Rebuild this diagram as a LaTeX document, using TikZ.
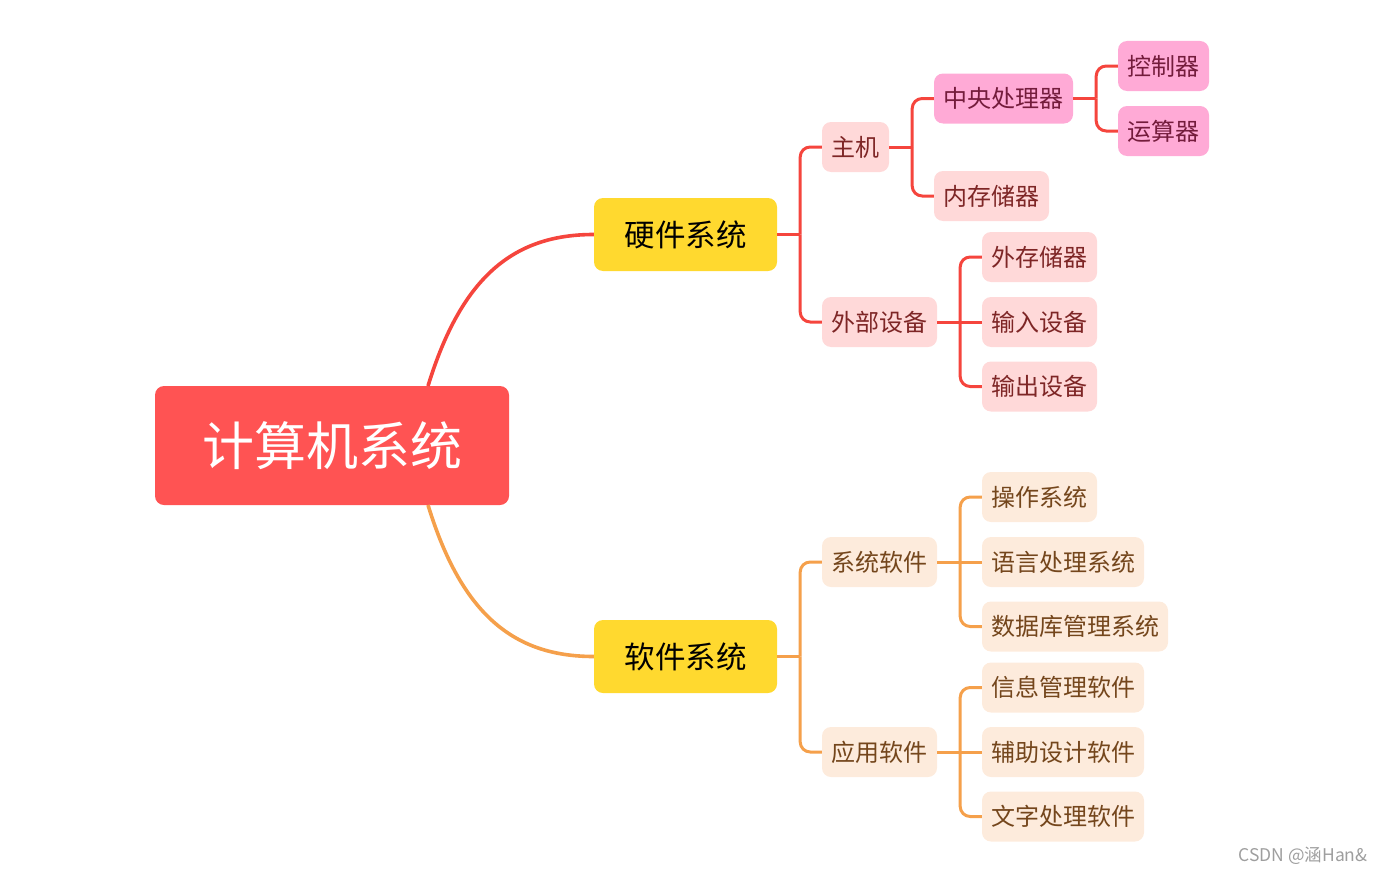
\documentclass[tikz,border=0pt]{standalone}
\usepackage{fontspec}
\setmainfont{Noto Sans CJK SC}
\usetikzlibrary{calc}
\definecolor{rootred}{HTML}{FF5353}
\definecolor{lvyellow}{HTML}{FFD92F}
\definecolor{hwline}{HTML}{F5453D}
\definecolor{swline}{HTML}{F5A04B}
\definecolor{pinklight}{HTML}{FFD9D9}
\definecolor{pinkdeep}{HTML}{FFAAD6}
\definecolor{peach}{HTML}{FDEBDC}
\definecolor{hwtext}{HTML}{7E2626}
\definecolor{cputext}{HTML}{741C3C}
\definecolor{swtext}{HTML}{74461C}
\tikzset{
  rootbox/.style={fill=rootred, rounded corners=9pt, inner sep=0pt, minimum width=354pt, minimum height=119pt, text=white, font=\fontsize{52}{60}\selectfont},
  lvtwo/.style={fill=lvyellow, rounded corners=9pt, inner sep=0pt, minimum height=73pt, minimum width=183pt, text=black, font=\fontsize{30.5}{36}\selectfont},
  hwbox/.style={fill=pinklight, rounded corners=9pt, inner sep=0pt, minimum height=50pt, text=hwtext, font=\fontsize{24}{28}\selectfont},
  cpubox/.style={fill=pinkdeep, rounded corners=9pt, inner sep=0pt, minimum height=50pt, text=cputext, font=\fontsize{24}{28}\selectfont},
  swbox/.style={fill=peach, rounded corners=9pt, inner sep=0pt, minimum height=50pt, text=swtext, font=\fontsize{24}{28}\selectfont},
  hwl/.style={draw=hwline, line width=3pt, rounded corners=10pt},
  swl/.style={draw=swline, line width=3pt, rounded corners=10pt},
}
\begin{document}
\begin{tikzpicture}[x=1pt,y=-1pt]
\useasboundingbox (0,0) rectangle (1388,875);
% root
\node[rootbox] (root) at (332,445.5) {计算机系统};
\coordinate (rtop) at (428,386);
\coordinate (rbot) at (428,505);
% level 2
\node[lvtwo] (hw) at (685.5,234.5) {硬件系统};
\node[lvtwo] (sw) at (685.5,656.5) {软件系统};
% hardware level 3
\node[hwbox, minimum width=67pt] (zj) at (855.5,147) {主机};
\node[hwbox, minimum width=115pt] (wb) at (879.5,322) {外部设备};
% level 4
\node[cpubox, minimum width=139pt] (cpu) at (1003.5,98.5) {中央处理器};
\node[hwbox, minimum width=115pt] (nc) at (991.5,196) {内存储器};
\node[cpubox, minimum width=91pt] (kz) at (1163.5,66) {控制器};
\node[cpubox, minimum width=91pt] (ys) at (1163.5,131) {运算器};
\node[hwbox, minimum width=115pt] (wc) at (1039.5,257) {外存储器};
\node[hwbox, minimum width=115pt] (sr) at (1039.5,322) {输入设备};
\node[hwbox, minimum width=115pt] (sc) at (1039.5,386.5) {输出设备};
% software level 3
\node[swbox, minimum width=115pt] (xt) at (879.5,562) {系统软件};
\node[swbox, minimum width=115pt] (yy) at (879.5,752) {应用软件};
\node[swbox, minimum width=115pt] (cz) at (1039.5,497) {操作系统};
\node[swbox, minimum width=162pt] (yc) at (1063,562) {语言处理系统};
\node[swbox, minimum width=186pt] (sj) at (1075,626.5) {数据库管理系统};
\node[swbox, minimum width=162pt] (xx) at (1063,687.5) {信息管理软件};
\node[swbox, minimum width=162pt] (fz) at (1063,752) {辅助设计软件};
\node[swbox, minimum width=162pt] (wz) at (1063,816.5) {文字处理软件};
% root connectors
\draw[draw=hwline, line width=3.6pt] (rtop) .. controls (462,275) and (515,234.5) .. (hw.west);
\draw[draw=swline, line width=3.6pt] (rbot) .. controls (462,616) and (515,656.5) .. (sw.west);
% hardware connectors
\draw[hwl] (hw.east) -- ++(23,0);
\draw[hwl] (hw.east) ++(23,0) |- (zj.west);
\draw[hwl] (hw.east) ++(23,0) |- (wb.west);
\draw[hwl] (zj.east) -- ++(23,0);
\draw[hwl] (zj.east) ++(23,0) |- (cpu.west);
\draw[hwl] (zj.east) ++(23,0) |- (nc.west);
\draw[hwl] (cpu.east) -- ++(23,0);
\draw[hwl] (cpu.east) ++(23,0) |- (kz.west);
\draw[hwl] (cpu.east) ++(23,0) |- (ys.west);
\draw[hwl] (wb.east) -- (sr.west);
\draw[hwl] (wb.east) ++(23,0) |- (wc.west);
\draw[hwl] (wb.east) ++(23,0) |- (sc.west);
% software connectors
\draw[swl] (sw.east) -- ++(23,0);
\draw[swl] (sw.east) ++(23,0) |- (xt.west);
\draw[swl] (sw.east) ++(23,0) |- (yy.west);
\draw[swl] (xt.east) -- (yc.west);
\draw[swl] (xt.east) ++(23,0) |- (cz.west);
\draw[swl] (xt.east) ++(23,0) |- (sj.west);
\draw[swl] (yy.east) -- (fz.west);
\draw[swl] (yy.east) ++(23,0) |- (xx.west);
\draw[swl] (yy.east) ++(23,0) |- (wz.west);
% watermark
\node[text=black!38, font=\fontsize{17.5}{20}\selectfont, inner sep=0pt] (wm) at (1303,856) {CSDN @涵Han\&};
\end{tikzpicture}
\end{document}
